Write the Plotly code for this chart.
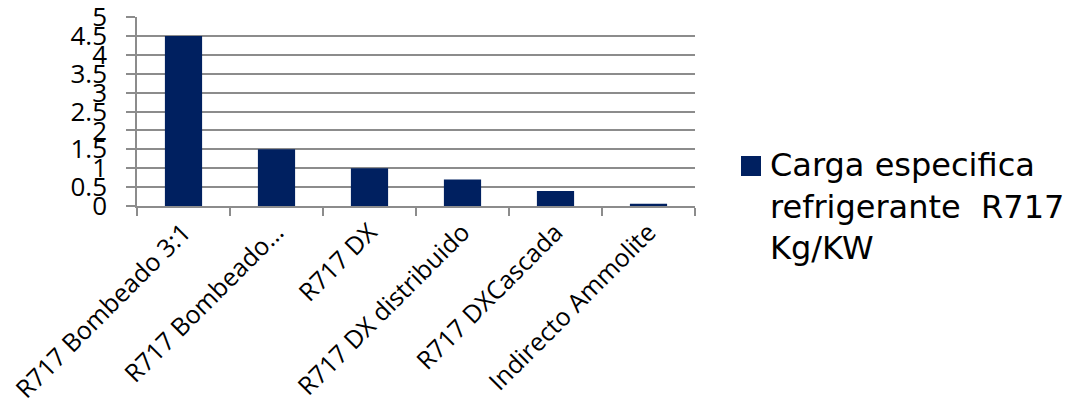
import plotly.graph_objects as go

categories = ["R717 Bombeado 3:1", "R717 Bombeado…", "R717 DX",
              "R717 DX distribuido", "R717 DXCascada", "Indirecto Ammolite"]
values = [4.5, 1.5, 1.0, 0.7, 0.4, 0.06]
series_lines = ["Carga especifica", "refrigerante \u00a0R717", "Kg/KW"]
y_tick_vals = [0, 0.5, 1, 1.5, 2, 2.5, 3, 3.5, 4, 4.5, 5]
y_tick_text = ["0", "0.5", "1", "1.5", "2", "2.5", "3", "3.5", "4", "4.5", "5"]

BAR_COLOR = "#002060"
GRID = "#8C8C8C"

W, H = 1081, 407
L, R, T, B = 137, 386, 17, 201
pw, ph = W - L - R, H - T - B

def px_x(x):
    return (x - L) / pw

def px_y(y):
    return (H - B - y) / ph

fig = go.Figure()
fig.add_trace(go.Bar(x=categories, y=values, marker=dict(color=BAR_COLOR, line=dict(width=0)),
                     name="<br>".join(series_lines), showlegend=False))

fig.update_layout(
    width=W, height=H,
    margin=dict(l=L, r=R, t=T, b=B, autoexpand=False),
    paper_bgcolor="white", plot_bgcolor="white",
    bargap=0.6,
    font=dict(family="Open Sans", color="black"),
)
fig.update_xaxes(
    showline=True, linecolor=GRID, linewidth=1.5,
    ticks="outside", ticklen=8, tickcolor=GRID, tickwidth=1.5,
    tickson="boundaries", tickangle=-45,
    tickfont=dict(family="Open Sans", size=25, color="black"),
    showgrid=False,
)
fig.update_yaxes(
    range=[0, 5], tickvals=y_tick_vals, ticktext=y_tick_text,
    showgrid=True, gridcolor=GRID, gridwidth=1.5,
    showline=True, linecolor=GRID, linewidth=1.5,
    ticks="outside", ticklen=9, tickcolor=GRID, tickwidth=1.5,
    zeroline=False,
    tickfont=dict(family="Open Sans", size=26, color="black"),
    ticklabelstandoff=14, ticklabeloverflow="allow",
)

# legend (manual, to match the large marker)
fig.add_shape(type="rect", xref="paper", yref="paper",
              x0=px_x(741), x1=px_x(761), y0=px_y(176), y1=px_y(156),
              fillcolor=BAR_COLOR, line=dict(width=0))
fig.add_annotation(xref="paper", yref="paper", x=px_x(768), y=px_y(206),
                   xanchor="left", yanchor="middle", align="left",
                   showarrow=False, text="<br>".join(series_lines),
                   font=dict(family="DejaVu Sans", size=32, color="black"))

fig.write_html("out.html")
